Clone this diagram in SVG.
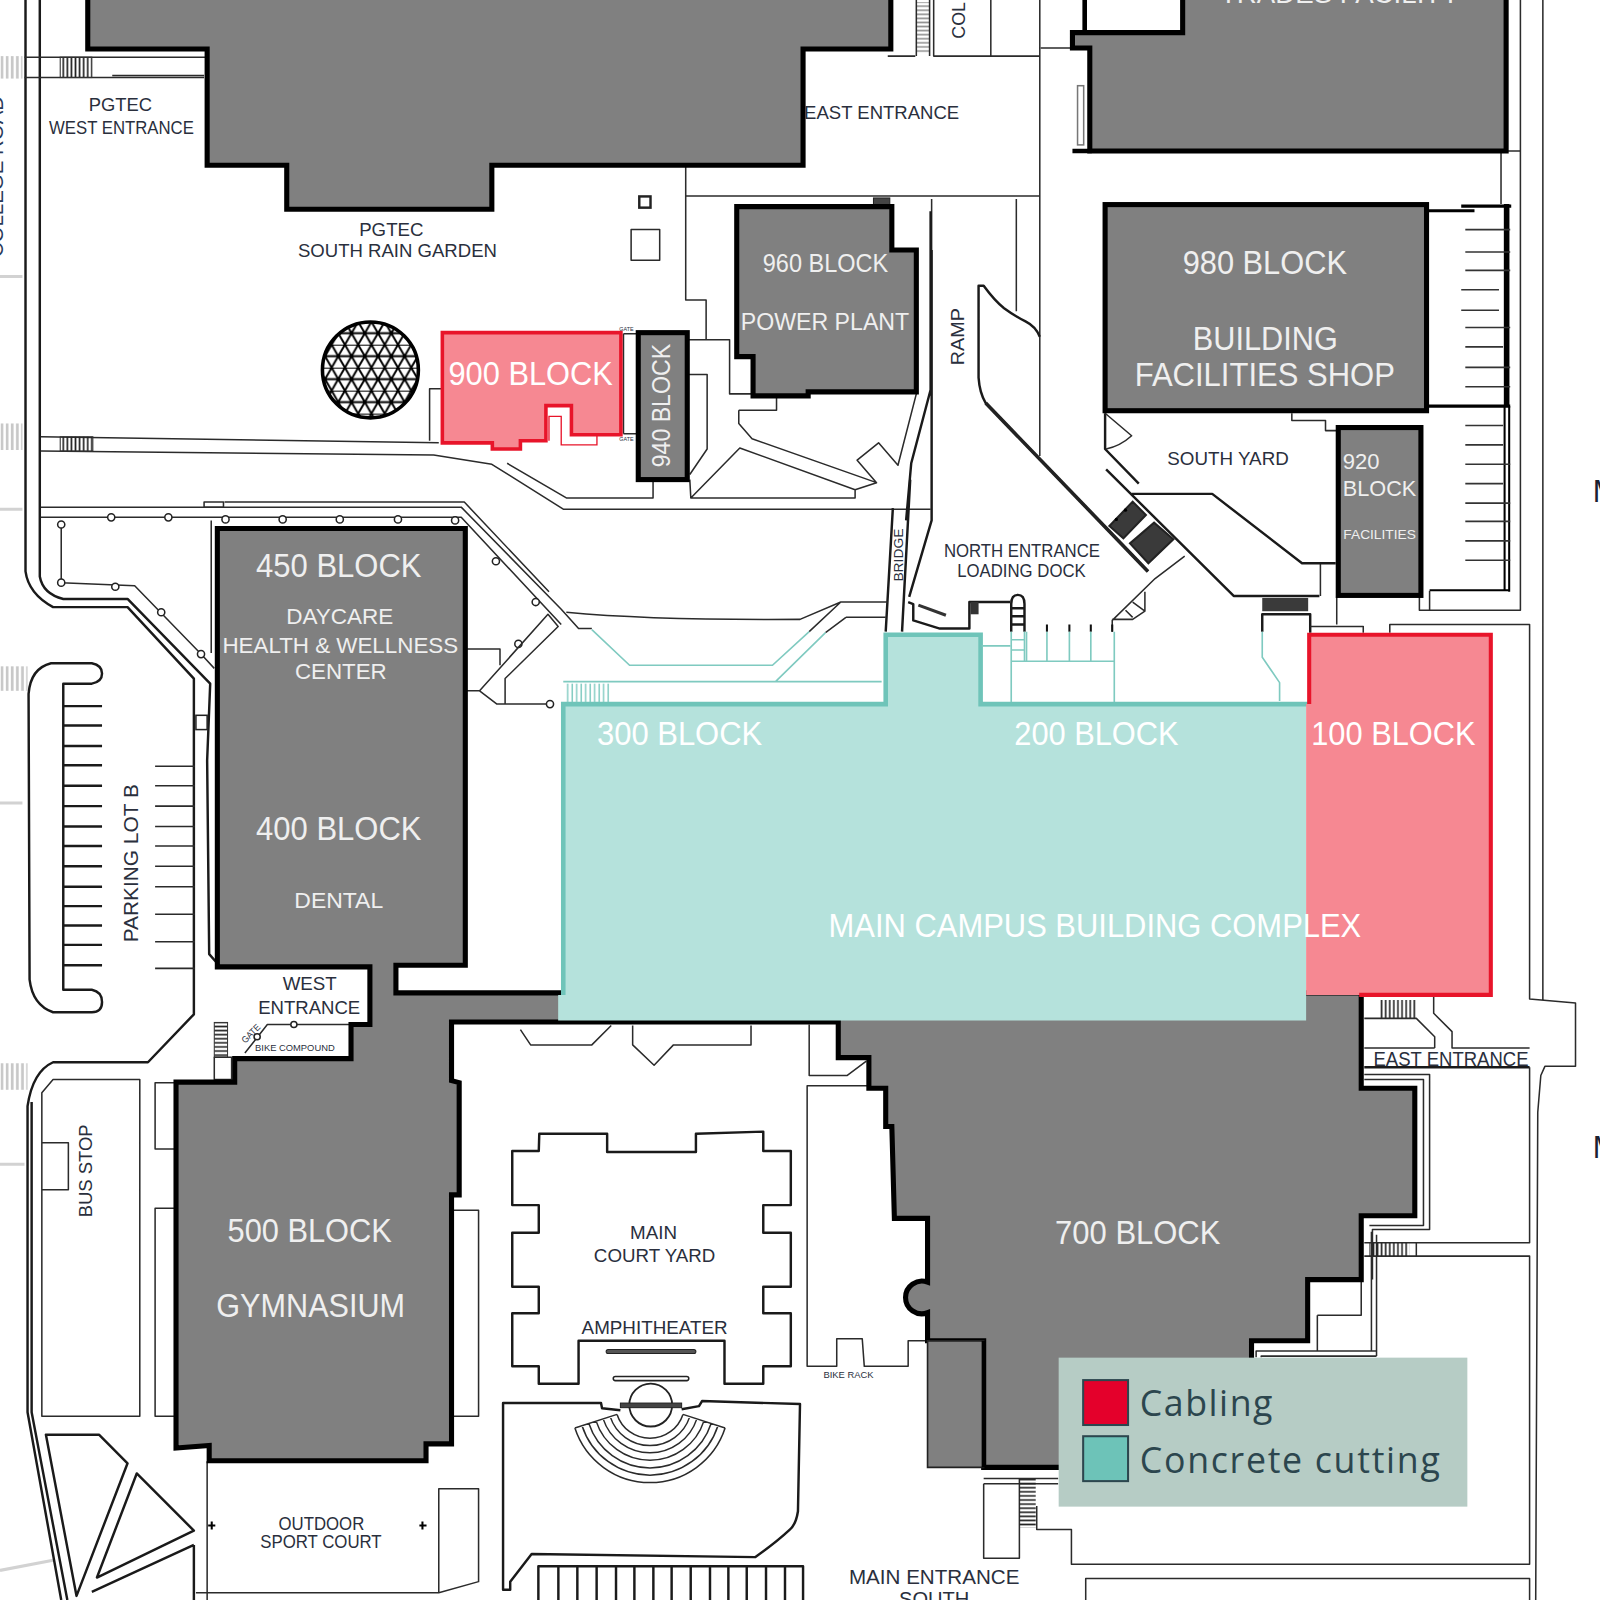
<svg xmlns="http://www.w3.org/2000/svg" width="1600" height="1600" viewBox="0 0 1600 1600">
<style>
text{font-family:"Liberation Sans",Arial,sans-serif}
.t{fill:none;stroke:#2b2b2b;stroke-width:1.5;stroke-linejoin:round}
.m{fill:none;stroke:#1a1a1a;stroke-width:2.4;stroke-linejoin:round}
.k{fill:none;stroke:#000;stroke-width:4.5;stroke-linejoin:miter}
.g{fill:none;stroke:#d2d2d2;stroke-width:3}
.tl{fill:none;stroke:#7fcac0;stroke-width:1.6}
.b{fill:#808080;stroke:#000;stroke-width:5;stroke-linejoin:miter}
.c{fill:#fff;stroke:#222;stroke-width:1.5}
.w{fill:#efefef;text-anchor:middle}
.wf{fill:#fff;text-anchor:middle}
.d{fill:#2a2f3d;text-anchor:middle}
.lg{font-family:"Open Sans","Noto Sans",sans-serif;fill:#2c464e;font-weight:500}
</style>
<defs>
<pattern id="vh" width="4" height="4" patternUnits="userSpaceOnUse"><path d="M2 0V4" stroke="#222" stroke-width="1.6"/></pattern>
<pattern id="hh" width="4" height="4" patternUnits="userSpaceOnUse"><path d="M0 2H4" stroke="#222" stroke-width="1.6"/></pattern>
<pattern id="gh" width="5" height="5" patternUnits="userSpaceOnUse"><path d="M2 0V5" stroke="#c8c8c8" stroke-width="2.6"/></pattern>
<pattern id="tv" width="4.4" height="4" patternUnits="userSpaceOnUse"><path d="M2 0V4" stroke="#7fcac0" stroke-width="1.4"/></pattern>
<pattern id="tri" width="13" height="22.52" patternUnits="userSpaceOnUse"><path d="M0 0H13M0 11.26H13M0 0L13 22.52M13 0L0 22.52" stroke="#000" stroke-width="1.9" fill="none"/></pattern>
<clipPath id="domeClip"><circle cx="363" cy="362.5" r="47"/></clipPath>
</defs>
<rect width="1600" height="1600" fill="#fff"/>
<g transform="scale(1.020408)">

<g id="margin-marks">
<rect x="0" y="55" width="22" height="22" fill="url(#gh)"/>
<rect x="0" y="415" width="22" height="26" fill="url(#gh)"/>
<rect x="0" y="653" width="27" height="24" fill="url(#gh)"/>
<rect x="0" y="1042" width="27" height="26" fill="url(#gh)"/>
<path class="g" d="M0 271H22M0 499H22M0 787H22M0 1141H24M0 1539L52 1529"/>
<text transform="translate(3 252) rotate(-90)" font-size="19" fill="#2a3a5a" textLength="158" lengthAdjust="spacingAndGlyphs">COLLEGE ROAD</text>
<text x="1561" y="492" font-size="30" fill="#1c2230">M</text>
<text x="1561" y="1135" font-size="30" fill="#1c2230">M</text>
</g>

<g id="site-lines">
<!-- left road -->
<path class="m" d="M25 0V560Q28 582 52 595H125L190 665V994L145 1041H52Q32 1050 27 1084V1384L60 1568"/>
<path class="m" d="M39 0V565Q42 582 62 587H125L206 670L203 745L205 935L212 943"/>
<path class="m" d="M31 1080V1384L66 1568"/>
<path class="t" d="M24 56H203M24 76H200M110 74H200"/>
<rect x="59" y="56" width="31" height="20" fill="url(#vh)" stroke="#333" stroke-width="1"/>
<path class="t" d="M40 428L430 434M40 442L425 446L482 455L552 499H912"/>
<rect x="59" y="428" width="32" height="14" fill="url(#vh)" stroke="#333" stroke-width="1"/>
<path class="t" d="M497 454L555 488H640V470M676 470L677 488H838V480L725 439L677 488M674 367H693V440L676 465"/>
<path class="t" d="M40 497H452L550 597L567 616H580M220 492H455L538 580"/>
<rect x="200" y="492" width="19" height="5" class="t"/>
<path class="t" d="M40 507H452L550 612M60 514V571L132 574L197 641L210 655M207 510V640"/>
<g class="c">
<circle cx="109" cy="507" r="3.5"/><circle cx="165" cy="507" r="3.5"/><circle cx="221" cy="509" r="3.5"/><circle cx="277" cy="509" r="3.5"/><circle cx="333" cy="509" r="3.5"/><circle cx="390" cy="509" r="3.5"/><circle cx="446" cy="510" r="3.5"/>
<circle cx="60" cy="514" r="3.5"/><circle cx="60" cy="571" r="3.5"/><circle cx="113" cy="575" r="3.5"/><circle cx="158" cy="600" r="3.5"/><circle cx="197" cy="641" r="3.5"/>
<circle cx="486" cy="550" r="3.5"/><circle cx="525" cy="590" r="3.5"/><circle cx="508" cy="631" r="3.5"/><circle cx="539" cy="690" r="3.5"/>
</g>
<path class="t" d="M456 636H490V652M456 677H470L537 602L547 614L495 665V690M470 677L487 690H536"/>
<rect x="192" y="701" width="11" height="14" class="c"/>
<!-- parking lot B -->
<path class="m" d="M28 680Q30 655 50 650H90Q100 652 100 660T90 670H62V970H90Q100 972 100 982T90 992H52Q32 985 29 960Z"/>
<path class="m" d="M62 692H100M62 711H100M62 731H100M62 750H100M62 770H100M62 790H100M62 810H100M62 829H100M62 849H100M62 869H100M62 888H100M62 907H100M62 926H100M62 946H100"/>
<path class="t" d="M152 751H191M152 770H191M152 790H191M152 810H191M152 829H191M152 849H191M152 869H191M152 896H191M152 923H191M152 949H191"/>
<!-- top right / ramp -->
<path class="t" d="M672 162V192H1019M672 192V294H692V333H675M692 333H715V386H737"/>
<path class="t" d="M724 402H761V390M724 402V415L737 430L859 473L840 451L861 434L880 456L898 386M859 473L838 480"/>
<path class="t" d="M1019 0V447M1020 47H1051M996 195V305M913 195V245"/>
<rect x="856" y="194" width="16" height="7" fill="#444" stroke="#222"/>
<path class="m" d="M912 207V382L893 454L888 510M913 245V510L891 585"/>
<path class="t" d="M870 55H897M915 0V55H971V0M971 55H1019"/>
<path class="t" d="M898 0V55M911 0V55"/><rect x="898" y="2" width="13" height="50" fill="url(#hh)" opacity=".5"/>
<rect x="626.5" y="192.5" width="11" height="11" fill="none" stroke="#222" stroke-width="2.4"/>
<rect x="618.5" y="225" width="28" height="30" class="t"/>
<path class="m" d="M1019 330Q1015 320 1005 315Q995 310 984 302Q975 295 964 280H959V370Q960 385 966 395L1125 560"/>
<path d="M966 395L1125 560" stroke="#222" stroke-width="3.5" fill="none"/>
<path d="M1087.200 515.500L1110 491.600L1123 504.700L1100.900 527.600ZM1107.400 532.500L1131 512.200L1149.900 528.500L1125.400 552Z" fill="#3a3a3a" stroke="#222" stroke-width="2"/>
<circle cx="1094" cy="509" r="1.6"/><circle cx="1103" cy="500" r="1.6"/>
<path class="t" d="M1161 545L1132 567L1090 608V619M1090 607H1110L1122 599V580M1103 598L1110 605M1110 590L1122 599"/>
<path class="m" d="M875 498L868 619M892 470L884 619"/>
<path class="m" d="M890 590L895 592V608L921 616H950V590H990"/>
<path d="M900 593L927 603" stroke="#333" stroke-width="3" fill="none"/>
<rect x="951" y="590" width="8" height="12" fill="#333"/>
<path class="m" d="M991 619V592Q991 583 997.500 583T1004 592V619M991 596H1004M991 604H1004M991 612H1004"/>
<path d="M1026 612V619M1048 612V619M1069 612V619M1090 612V619" stroke="#111" stroke-width="2"/>
<path class="m" d="M1084 460L1209 584H1293M1083 405V440L1116 474"/>
<path class="t" d="M1083 405L1109 427Q1098 437 1084 440M1294 552V584M1266 405V412H1299V422H1311"/>
<path class="m" d="M1109 484H1188L1276 552H1309"/>
<rect x="1237" y="586" width="45" height="13" fill="#3a3a3a"/>
<path class="m" d="M1237 619V602H1284V620"/>
<path class="t" d="M1310 584V612M1284 614H1336V620M1362 620V612H1499V979L1544 983V1045H1514L1510 1054L1507 1090L1505 1568M1512 0V980M1490 0V598H1391V584M1471 150V200M1476 148H1490"/>
<path d="M1398 206.500H1445M1432 202H1481M1398 398H1480" fill="none" stroke="#000" stroke-width="3"/>
<path d="M1476.500 200V398" fill="none" stroke="#000" stroke-width="5.500"/>
<path d="M1474.500 398V578M1479 398V580M1401 578.500H1480" fill="none" stroke="#000" stroke-width="2"/>
<path class="t" d="M1401 579V598"/>
<path d="M1436 225H1480M1436 247H1480M1436 265H1480M1432 284H1469M1432 304H1469M1436 321H1480M1436 340H1473M1436 360H1480M1436 379H1480M1436 417H1473M1436 436H1473M1436 455H1480M1436 474H1473M1436 493H1480M1436 511H1480M1436 530H1480M1436 549H1480" stroke="#333" stroke-width="1.6" fill="none"/>
<!-- east entrance -->
<rect x="1352" y="980" width="36" height="18" fill="url(#vh)"/>
<path class="t" d="M1337 998H1388L1406 1016V1027M1405 977V993L1423 1011V1027H1499M1337 1027H1406"/>
<path class="m" d="M1337 1046H1499"/>
<path class="t" d="M1337 1053H1401V1205H1345V1254M1337 1058H1395V1201H1342M1344 1207V1324M1349 1210V1329"/>
<path class="t" d="M1291 1289H1334V1254M1291 1289V1324M1231 1330V1324H1349M1236 1330V1329H1349M1499 1046V1218H1337M1337 1231H1499V1533H1050V1499H1016V1476M1388 1218V1231"/>
<rect x="1342" y="1218" width="39" height="13" fill="url(#vh)"/>
<path class="t" d="M964 1449H1037M964 1454H1037M964 1454V1527H999V1449M1064 1568V1547H1499V1568"/>
<rect x="999" y="1449" width="16" height="48" fill="url(#hh)"/>
<!-- bike compound -->
<rect x="210" y="1002" width="13" height="34" fill="url(#hh)" stroke="#333" stroke-width="1"/>
<rect x="210" y="1036" width="17" height="22" class="t"/>
<path class="t" d="M240 1032L262 1004H345"/>
<circle class="c" cx="252" cy="1016" r="3"/><circle class="c" cx="288" cy="1004" r="3"/>
<!-- bus stop -->
<path class="t" d="M41 1071L52 1058H137V1388H41ZM41 1120H67V1166H41"/>
<path class="t" d="M172 1061H152V1126H172M172 1184H152V1388H172M443 1186H469V1388H443"/>
<path class="m" d="M45 1406H97L125 1434L75 1564ZM134 1444L190 1500L95 1546ZM190 1514V1568M190 1514L90 1560"/>
<!-- sport court -->
<path class="t" d="M203 1432V1568M192 1561H430V1459H469V1550L430 1561"/>
<path d="M204 1495H211M207.500 1491V1499M411 1495H418M414 1491V1499" stroke="#000" stroke-width="2"/>
<!-- courtyard -->
<path class="m" d="M528.500 1111H595V1129H682V1111L748 1109V1128H775V1181H748V1208H775V1261H748V1287H775V1339H748V1356H710V1314H567V1356H528V1339H502V1287H528V1261H502V1208H528V1181H502V1128H528Z"/>
<path class="t" d="M510 1009L520 1024H580L599 1005M620 1005V1024L641 1044L660 1024H736V1005"/>
<path class="t" d="M793 1004V1054H830L849 1040M851 1064H791V1339H820V1312H845L847 1339H890V1314H908"/>
<!-- amphitheatre -->
<path class="m" d="M608 1382L590 1380L589 1375H493V1558H500V1550L521 1523L740 1526Q760 1512 774 1499Q780 1494 782 1481L784 1376L688 1373L685 1378L668 1381"/>
<rect x="594" y="1322.500" width="88" height="4" rx="2" fill="#555" stroke="#222"/>
<rect x="601" y="1349" width="74" height="4" rx="2" fill="#fff" stroke="#222" stroke-width="1.5"/>
<circle cx="637.700" cy="1377" r="21" fill="none" stroke="#222" stroke-width="1.8"/>
<rect x="608" y="1375" width="60" height="4.500" fill="#444" stroke="#222"/>
<path class="t" stroke-width="1.6" d="M604.700 1386.100A34 34 0 0 0 669.300 1386.100M598 1388.300A41 41 0 0 0 676 1388.300M591.100 1390.500A48.300 48.300 0 0 0 682.900 1390.500M584.200 1392.700A55.500 55.500 0 0 0 689.800 1392.700M577.100 1395.100A63 63 0 0 0 696.900 1395.100M570.400 1397.200A70 70 0 0 0 703.600 1397.200M563.400 1399.500A77.400 77.400 0 0 0 710.600 1399.500M604.700 1386.100L563.400 1399.500M669.300 1386.100L710.600 1399.500"/>
<path class="m" d="M527.600 1568V1535H787V1568M547.200 1535V1568M565.800 1535V1568M584.700 1535V1568M603.700 1535V1568M621.700 1535V1568M640.300 1535V1568M658.200 1535V1568M676.900 1535V1568M695.800 1535V1568M713.800 1535V1568M731.800 1535V1568M750.700 1535V1568M769.300 1535V1568"/>
<!-- curved path above 300 block -->
<path class="t" d="M555 600Q640 608 784 607L824 590H870M829 605H868M793 619L824 590M809 620L829 605"/>
<!-- 900 side -->
<path class="t" d="M421 432V381H433M611 327V425M625 327V425M611 327H625M611 425H625"/>
</g>

<g id="node-trades"><path class="b" d="M1159 -5V32H1051V47H1068V148H1476V-5Z"/><path class="k" d="M1063 0V32M1051 148H1070"/><rect x="1056" y="84" width="6" height="58" fill="#fff" stroke="#777" stroke-width="1.5"/><text class="w" x="1313" y="3" font-size="27" textLength="235" lengthAdjust="spacingAndGlyphs">TRADES FACILITY</text></g>

<g id="node-pgtec"><path class="b" d="M86 -5V48H203V162H281V205H482V162H787V48H873V-5Z"/></g>

<g id="node-960"><path class="b" d="M722 202.500H874V245H898V384H792V388H738V349.500H722Z"/><text class="w" x="809" y="267" font-size="25" textLength="123" lengthAdjust="spacingAndGlyphs">960 BLOCK</text><text class="w" x="808.500" y="323" font-size="23.300" textLength="165" lengthAdjust="spacingAndGlyphs">POWER PLANT</text></g>

<g id="node-980"><rect class="b" x="1083" y="200.500" width="315" height="202"/><text class="w" x="1239.500" y="269" font-size="32" textLength="161" lengthAdjust="spacingAndGlyphs">980 BLOCK</text><text class="w" x="1240" y="343" font-size="32" textLength="142" lengthAdjust="spacingAndGlyphs">BUILDING</text><text class="w" x="1239.500" y="378" font-size="32" textLength="255" lengthAdjust="spacingAndGlyphs">FACILITIES SHOP</text></g>

<g id="node-920"><rect class="b" x="1311.500" y="419" width="81" height="164.500"/><text class="w" x="1334" y="460" font-size="21.500" textLength="36" lengthAdjust="spacingAndGlyphs">920</text><text class="w" x="1352" y="486" font-size="21.500" textLength="72" lengthAdjust="spacingAndGlyphs">BLOCK</text><text class="w" x="1352" y="528" font-size="13" textLength="71" lengthAdjust="spacingAndGlyphs">FACILITIES</text></g>

<g id="node-940"><rect class="b" x="625.500" y="326" width="48" height="144"/><text class="w" transform="translate(657 397.500) rotate(-90)" font-size="26" textLength="121" lengthAdjust="spacingAndGlyphs">940 BLOCK</text></g>

<g id="node-400-500-700"><path class="b" d="M213 518H456V946H388V973H1334V1066.500H1386.500V1191.500H1334V1254H1281.500V1314H1226.500V1438H964V1314H909V1286.500A16 16 0 1 1 909 1256.500V1194H876.500L874 1104H868V1066.500H851.500V1036.500H821.500V1001.500H442.500V1059L450 1061V1171H442.500V1415H417.500V1431.500H205V1416.500L172.500 1419V1060.500H230V1037.500H344V1004H362.500V947.500H213Z"/>
<path d="M909 1314H964V1438H909Z" fill="#808080" stroke="#222" stroke-width="1.6"/><path d="M964 1314V1438" stroke="#000" stroke-width="4"/>
<text class="w" x="332" y="565" font-size="32" textLength="162" lengthAdjust="spacingAndGlyphs">450 BLOCK</text>
<text class="w" x="333" y="612" font-size="22" textLength="105" lengthAdjust="spacingAndGlyphs">DAYCARE</text>
<text class="w" x="333.500" y="639.500" font-size="22" textLength="231" lengthAdjust="spacingAndGlyphs">HEALTH &amp; WELLNESS</text>
<text class="w" x="334" y="665" font-size="22" textLength="90" lengthAdjust="spacingAndGlyphs">CENTER</text>
<text class="w" x="332" y="823" font-size="32" textLength="162" lengthAdjust="spacingAndGlyphs">400 BLOCK</text>
<text class="w" x="332" y="890" font-size="22" textLength="87" lengthAdjust="spacingAndGlyphs">DENTAL</text>
<text class="w" x="303.500" y="1217" font-size="32" textLength="161" lengthAdjust="spacingAndGlyphs">500 BLOCK</text>
<text class="w" x="304.500" y="1291" font-size="32" textLength="185" lengthAdjust="spacingAndGlyphs">GYMNASIUM</text>
<text class="w" x="1115" y="1219" font-size="32" textLength="162" lengthAdjust="spacingAndGlyphs">700 BLOCK</text>
</g>

<g id="dome">
<circle cx="363" cy="362.500" r="47" fill="#fff"/>
<rect x="316" y="315" width="95" height="95" fill="url(#tri)" clip-path="url(#domeClip)"/>
<circle cx="363" cy="362.500" r="47" fill="none" stroke="#000" stroke-width="3.5"/>
</g>

<g id="node-900">
<path d="M433.500 326H608.500V426H560V397.500H535V432H510V440H482.500V434H433.500Z" fill="#f68892" stroke="#e8142a" stroke-width="3.500"/>
<path d="M538 432V408H550V436H585V427" fill="none" stroke="#e8142a" stroke-width="1.300"/>
<text class="wf" x="520" y="377" font-size="32" textLength="161" lengthAdjust="spacingAndGlyphs">900 BLOCK</text>
</g>

<g id="node-main-campus">
<path d="M552 690H868V622H961V690H1280V1000H547V975H552Z" fill="#b5e2dc"/>
<path d="M552 975V690H868V622H961V690H1282" fill="none" stroke="#6fc4b9" stroke-width="4.500"/>
<path class="tl" d="M580 617L617 652H757L793 619M760 668L809 620M552 668H864M962 633H990M991 619V688M991 627H1004M991 637H1004M991 648H1092M1092 619V688M1006 619V648M1026 619V648M1048 619V648M1069 619V648M1237 619V644L1254 669V687"/>
<path class="tl" d="M1004 619V648"/>
<rect x="554" y="670" width="44" height="18" fill="url(#tv)"/>
<text class="wf" x="666" y="730" font-size="32" textLength="162" lengthAdjust="spacingAndGlyphs">300 BLOCK</text>
<text class="wf" x="1074.500" y="730" font-size="32" textLength="161" lengthAdjust="spacingAndGlyphs">200 BLOCK</text>
</g>

<g id="node-100">
<path d="M1283 622H1461V975H1280V690H1283Z" fill="#f68892"/>
<path d="M1283 690V622H1461V975H1332" fill="none" stroke="#e8142a" stroke-width="4"/>
<text class="wf" x="1365.500" y="730" font-size="32" textLength="161" lengthAdjust="spacingAndGlyphs">100 BLOCK</text>
</g>
<text class="wf" x="1073" y="918" font-size="32" textLength="522" lengthAdjust="spacingAndGlyphs" id="main-label">MAIN CAMPUS BUILDING COMPLEX</text>

<g id="labels" font-size="18">
<text class="d" x="118" y="109" textLength="62" lengthAdjust="spacingAndGlyphs">PGTEC</text>
<text class="d" x="119" y="131" textLength="142" lengthAdjust="spacingAndGlyphs">WEST ENTRANCE</text>
<text class="d" x="383.500" y="231" textLength="63" lengthAdjust="spacingAndGlyphs">PGTEC</text>
<text class="d" x="389.500" y="252" textLength="195" lengthAdjust="spacingAndGlyphs">SOUTH RAIN GARDEN</text>
<text class="d" x="864" y="117" textLength="152" lengthAdjust="spacingAndGlyphs">EAST ENTRANCE</text>
<text class="d" transform="translate(945 330) rotate(-90)" textLength="56" lengthAdjust="spacingAndGlyphs">RAMP</text>
<text class="d" transform="translate(946 20) rotate(-90)" textLength="36" lengthAdjust="spacingAndGlyphs">COL</text>
<text class="d" x="1203.500" y="456" textLength="119" lengthAdjust="spacingAndGlyphs">SOUTH YARD</text>
<text class="d" x="1001.500" y="546" textLength="153" lengthAdjust="spacingAndGlyphs">NORTH ENTRANCE</text>
<text class="d" x="1001" y="565" textLength="126" lengthAdjust="spacingAndGlyphs">LOADING DOCK</text>
<text class="d" transform="translate(885 544) rotate(-90)" font-size="13" textLength="52" lengthAdjust="spacingAndGlyphs">BRIDGE</text>
<text class="d" transform="translate(135 846) rotate(-90)" font-size="20" textLength="155" lengthAdjust="spacingAndGlyphs">PARKING LOT B</text>
<text class="d" transform="translate(90 1147.500) rotate(-90)" textLength="91" lengthAdjust="spacingAndGlyphs">BUS STOP</text>
<text class="d" x="303.500" y="970" textLength="53" lengthAdjust="spacingAndGlyphs">WEST</text>
<text class="d" x="303" y="994" textLength="100" lengthAdjust="spacingAndGlyphs">ENTRANCE</text>
<text class="d" x="289" y="1030" font-size="9" textLength="78" lengthAdjust="spacingAndGlyphs">BIKE COMPOUND</text>
<text class="d" transform="translate(248 1015) rotate(-45)" font-size="9" textLength="22" lengthAdjust="spacingAndGlyphs">GATE</text>
<text class="d" x="640.500" y="1214" textLength="46" lengthAdjust="spacingAndGlyphs">MAIN</text>
<text class="d" x="641.500" y="1237" textLength="119" lengthAdjust="spacingAndGlyphs">COURT YARD</text>
<text class="d" x="641.500" y="1307" textLength="143" lengthAdjust="spacingAndGlyphs">AMPHITHEATER</text>
<text class="d" x="315" y="1499" textLength="84" lengthAdjust="spacingAndGlyphs">OUTDOOR</text>
<text class="d" x="314.500" y="1517" textLength="119" lengthAdjust="spacingAndGlyphs">SPORT COURT</text>
<text class="d" x="915.500" y="1552" font-size="20" textLength="167" lengthAdjust="spacingAndGlyphs">MAIN ENTRANCE</text>
<text class="d" x="915.500" y="1574" font-size="20" textLength="69" lengthAdjust="spacingAndGlyphs">SOUTH</text>
<text class="d" x="1422" y="1045" font-size="20" textLength="152" lengthAdjust="spacingAndGlyphs">EAST ENTRANCE</text>
<text class="d" x="831.500" y="1350" font-size="8" textLength="49" lengthAdjust="spacingAndGlyphs">BIKE RACK</text>
<text class="d" x="614" y="324" font-size="5" textLength="14" lengthAdjust="spacingAndGlyphs">GATE</text>
<text class="d" x="614" y="432" font-size="5" textLength="14" lengthAdjust="spacingAndGlyphs">GATE</text>
</g>

<g id="legend">
<rect x="1037.500" y="1330.500" width="400.500" height="146" fill="#b6ccc5"/>
<rect x="1061.500" y="1352.500" width="44" height="44" fill="#e4002b" stroke="#2c464e" stroke-width="2"/>
<rect x="1061.500" y="1407.500" width="44" height="44" fill="#6dc3b8" stroke="#2c464e" stroke-width="2"/>
<text class="lg" x="1117" y="1388" font-size="35" textLength="130">Cabling</text>
<text class="lg" x="1117" y="1444" font-size="35" textLength="294">Concrete cutting</text>
</g>
</g>
</svg>
